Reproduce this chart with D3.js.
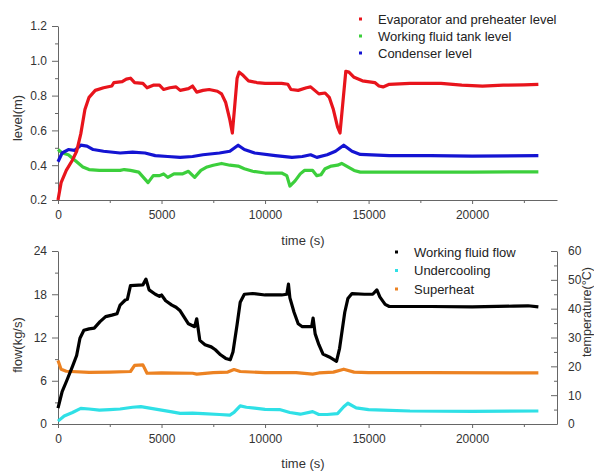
<!DOCTYPE html>
<html>
<head>
<meta charset="utf-8">
<script src="https://cdn.jsdelivr.net/npm/d3@7"></script>
<style>
  body { margin: 0; background: #fff; }
  svg { font-family: "Liberation Sans", Arial, sans-serif; }
  .axis path, .axis line { stroke: #666; }
  .axis text { fill: #333; font-size: 12px; }
</style>
</head>
<body>
<div class="graph-div"></div>
<script>
var outerWidth = 594;
var outerHeight = 473;

// top panel: levels (m)
var evapT = [0,150,400,700,900,1100,1300,1500,1800,2200,2600,2700,3100,3300,3500,3700,4100,4300,4600,4900,5100,5400,5700,5900,6300,6500,6700,7000,7300,7700,7900,8100,8300,8420,8520,8650,8750,8950,9200,9600,10000,10800,11100,11250,11600,12000,12200,12400,12600,12900,13100,13300,13500,13620,13750,13900,14050,14300,14700,15300,15500,15700,16000,17000,18500,19500,20500,21500,22500,23200];
var evapV = [0.2,0.3,0.37,0.43,0.48,0.58,0.72,0.79,0.83,0.845,0.855,0.875,0.88,0.895,0.9,0.875,0.87,0.845,0.86,0.86,0.835,0.845,0.85,0.83,0.84,0.855,0.82,0.83,0.835,0.825,0.81,0.76,0.66,0.585,0.72,0.9,0.935,0.915,0.885,0.875,0.87,0.87,0.865,0.835,0.83,0.845,0.85,0.83,0.81,0.815,0.79,0.72,0.62,0.585,0.75,0.94,0.935,0.905,0.885,0.875,0.855,0.85,0.865,0.87,0.87,0.86,0.855,0.86,0.862,0.865];

var tankT = [0,200,500,700,900,1200,1500,2000,3000,3200,3500,3900,4200,4350,4600,4900,5100,5300,5600,6000,6300,6600,6900,7200,7500,7900,8300,8700,9000,9400,10000,10800,11050,11200,11450,11700,11900,12300,12500,12700,12900,13200,13500,13700,14000,14300,14600,16000,18000,20000,23200];
var tankV = [0.49,0.47,0.46,0.44,0.42,0.39,0.375,0.37,0.37,0.375,0.37,0.36,0.32,0.3,0.34,0.34,0.35,0.33,0.35,0.35,0.365,0.33,0.37,0.39,0.4,0.41,0.4,0.395,0.38,0.365,0.355,0.355,0.34,0.28,0.31,0.35,0.37,0.37,0.34,0.345,0.38,0.395,0.4,0.41,0.39,0.37,0.36,0.36,0.36,0.36,0.362];

var condT = [0,200,500,800,1100,1400,1700,2200,3000,3600,4200,4700,5300,5900,6500,7000,7800,8300,8700,9000,9500,10500,11300,11800,12200,12500,13000,13400,13800,14200,14600,16000,18000,20000,23200];
var condV = [0.42,0.47,0.49,0.485,0.515,0.51,0.49,0.48,0.47,0.475,0.47,0.455,0.45,0.445,0.45,0.46,0.47,0.48,0.515,0.49,0.47,0.455,0.445,0.45,0.46,0.445,0.46,0.48,0.515,0.48,0.462,0.455,0.455,0.452,0.455];

// bottom panel: flow (kg/s) on the left, temperatures (°C) on the right
var flowT = [0,200,420,700,900,1060,1250,1500,1750,2030,2300,2600,2850,3000,3250,3350,3500,4100,4250,4400,4700,4900,5000,5200,5500,5700,5900,6100,6300,6600,6700,6850,7100,7400,7600,7850,8100,8320,8450,8650,8800,9000,9400,10000,10800,11050,11130,11200,11400,11600,11800,12250,12320,12420,12600,12800,13100,13450,13600,13850,14000,14200,14800,15200,15400,15550,15800,16000,18000,20000,22000,22700,23200];
var flowV = [2.2,4.5,6,8,9.5,11.9,13,13.2,13.3,14.2,14.9,15.1,15.3,16.5,17.2,17.3,19.2,19.3,20.1,18.6,18,17.7,17.9,17.1,16.5,16.2,15.7,14.8,13.9,13.5,14.6,11.6,11,10.7,10.3,9.6,9.1,8.9,10,13.8,16.9,18,18.1,17.9,17.9,18,19.4,17.5,15.5,13.9,13.5,13.5,14.7,12.5,11,9.7,9.3,8.7,10.5,15.5,17.4,18.1,18,18,18.6,17.6,16.6,16.3,16.3,16.25,16.35,16.4,16.25];

var subT = [0,300,700,1100,1500,2000,2500,3000,3600,4000,4500,5000,5500,5900,6500,7000,7800,8300,8500,8800,9100,9500,10000,10700,11200,11700,12300,12600,13000,13500,13800,14000,14400,15000,15700,17000,20000,23200];
var subV = [1.0,2.8,4,5.4,5.2,4.8,5,5.2,5.8,6,5.4,4.8,4.2,3.7,3.8,3.6,3.3,3.1,4,6.3,5.8,5.5,5.1,5,4,3.4,4.3,3.3,3.3,3.6,6,7.2,5.6,5,4.8,4.5,4.4,4.5];

var supT = [0,150,400,1500,2500,3500,3700,4100,4300,5000,6500,6700,7500,8200,8500,8800,10000,11500,12300,12600,13300,13800,14300,15000,18000,23200];
var supV = [22,19,18.3,17.9,18,18.2,20.3,20.5,17.6,17.7,17.6,17.3,17.8,18,18.9,18.2,17.8,17.8,17.3,17.7,18,19,18,17.8,17.8,17.7];

var topLegend = ["Evaporator and preheater level", "Working fluid tank level", "Condenser level"];
var topColors = ["#e8141c", "#3ccf3c", "#1414d2"];
var botLegend = ["Working fluid flow", "Undercooling", "Superheat"];
var botColors = ["#000000", "#2fe0e6", "#ec8222"];

function zip(t, v) { return t.map(function(d, i) { return [d, v[i]]; }); }

var svg = d3.select(".graph-div").append("svg")
  .attr("width", outerWidth)
  .attr("height", outerHeight);

var xScale = d3.scaleLinear().domain([0, 24100]).range([58, 557]);

// ---- top panel
var yTop = d3.scaleLinear().domain([0.2, 1.2]).range([200, 26]);

function xAxisAt(y) {
  var minor = svg.append("g").attr("class", "axis")
    .attr("transform", "translate(0," + y + ")")
    .call(d3.axisBottom(xScale).tickValues(d3.range(2500, 24000, 5000)).tickSize(3).tickFormat(""));
  minor.select(".domain").remove();
  svg.append("g").attr("class", "axis")
    .attr("transform", "translate(0," + y + ")")
    .call(d3.axisBottom(xScale).tickValues([0, 5000, 10000, 15000, 20000]).tickSize(4).tickPadding(6).tickSizeOuter(0).tickFormat(d3.format("d")));
}

function yAxis(scale, x, major, minorVals, fmt, right) {
  var mk = right ? d3.axisRight : d3.axisLeft;
  var m = svg.append("g").attr("class", "axis")
    .attr("transform", "translate(" + x + ",0)")
    .call(mk(scale).tickValues(minorVals).tickSize(right ? -3 : 3).tickFormat(""));
  m.select(".domain").remove();
  var g = svg.append("g").attr("class", "axis")
    .attr("transform", "translate(" + x + ",0)")
    .call(mk(scale).tickValues(major).tickSize(right ? -6 : 6).tickPadding(right ? 11 : 5).tickSizeOuter(0).tickFormat(fmt));
  return g;
}

yAxis(yTop, 58, [0.2, 0.4, 0.6, 0.8, 1.0, 1.2], [0.3, 0.5, 0.7, 0.9, 1.1], d3.format(".1f"), false);
xAxisAt(200);

var lineTop = d3.line().x(function(d) { return xScale(d[0]); }).y(function(d) { return yTop(d[1]); });

var topSeries = [zip(tankT, tankV), zip(condT, condV), zip(evapT, evapV)];
var topSeriesColors = [topColors[1], topColors[2], topColors[0]];
topSeries.forEach(function(s, i) {
  svg.append("path").attr("d", lineTop(s))
    .attr("fill", "none").attr("stroke", topSeriesColors[i])
    .attr("stroke-width", 3.2).attr("stroke-linejoin", "round");
});

svg.append("text").attr("transform", "translate(22,118) rotate(-90)")
  .attr("text-anchor", "middle").attr("fill", "#333").attr("font-size", 13).text("level(m)");
svg.append("text").attr("x", 303).attr("y", 245)
  .attr("text-anchor", "middle").attr("fill", "#333").attr("font-size", 13).text("time (s)");

topLegend.forEach(function(t, i) {
  var y = 19 + i * 17;
  svg.append("rect").attr("x", 359).attr("y", y - 1.5).attr("width", 3).attr("height", 3).attr("fill", topColors[i]);
  svg.append("text").attr("x", 378).attr("y", y + 4.5).attr("fill", "#222").attr("font-size", 13).text(t);
});

// ---- bottom panel
var yFlow = d3.scaleLinear().domain([0, 24]).range([424, 251]);
var yTemp = d3.scaleLinear().domain([0, 60]).range([424, 251]);

yAxis(yFlow, 58, [0, 6, 12, 18, 24], [3, 9, 15, 21], d3.format("d"), false);
yAxis(yTemp, 557, [0, 10, 20, 30, 40, 50, 60], [5, 15, 25, 35, 45, 55], d3.format("d"), true);
xAxisAt(424);

var lineFlow = d3.line().x(function(d) { return xScale(d[0]); }).y(function(d) { return yFlow(d[1]); });
var lineTemp = d3.line().x(function(d) { return xScale(d[0]); }).y(function(d) { return yTemp(d[1]); });

svg.append("path").attr("d", lineTemp(zip(subT, subV)))
  .attr("fill", "none").attr("stroke", botColors[1]).attr("stroke-width", 3.2).attr("stroke-linejoin", "round");
svg.append("path").attr("d", lineTemp(zip(supT, supV)))
  .attr("fill", "none").attr("stroke", botColors[2]).attr("stroke-width", 3.2).attr("stroke-linejoin", "round");
svg.append("path").attr("d", lineFlow(zip(flowT, flowV)))
  .attr("fill", "none").attr("stroke", botColors[0]).attr("stroke-width", 3.2).attr("stroke-linejoin", "round");

svg.append("text").attr("transform", "translate(22,345) rotate(-90)")
  .attr("text-anchor", "middle").attr("fill", "#333").attr("font-size", 13).text("flow(kg/s)");
svg.append("text").attr("transform", "translate(591,312) rotate(-90)")
  .attr("text-anchor", "middle").attr("fill", "#333").attr("font-size", 12.5).text("temperature(°C)");
svg.append("text").attr("x", 303).attr("y", 468)
  .attr("text-anchor", "middle").attr("fill", "#333").attr("font-size", 13).text("time (s)");

botLegend.forEach(function(t, i) {
  var y = 252 + i * 18.5;
  svg.append("rect").attr("x", 395).attr("y", y - 1.5).attr("width", 3).attr("height", 3).attr("fill", botColors[i]);
  svg.append("text").attr("x", 414).attr("y", y + 4.5).attr("fill", "#222").attr("font-size", 13).text(t);
});
</script>
</body>
</html>
